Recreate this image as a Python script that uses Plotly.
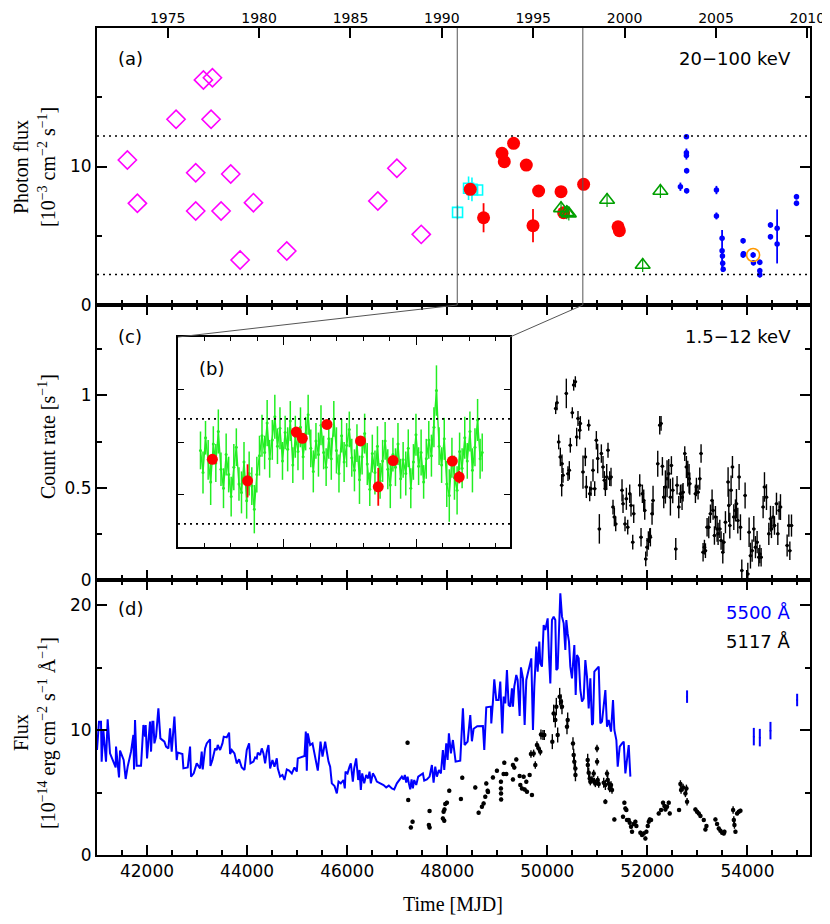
import plotly.graph_objects as go

# ------------------------------------------------------------------ data
# panel (a): 20-100 keV photon flux [1e-3 cm^-2 s^-1]
mag_t = [41607, 41807, 42580, 43127, 43307, 43280, 42973, 42973, 43480, 43673,
         44127, 43860, 44793, 46613, 46993, 47480]
mag_f = [10.47, 7.34, 13.41, 16.25, 16.41, 13.41, 9.55, 6.79, 6.79, 9.46,
         7.39, 3.25, 3.90, 7.51, 9.87, 5.10]

cyan_t = [48206, 48426, 48494, 48606]
cyan_f = [6.69, 8.43, 8.35, 8.30]
cyan_e = [0.5, 0.85, 0.85, 0.4]

red_t = [48460, 48726, 49094, 49140, 49326, 49580, 49714, 49826, 50274, 50326,
         50726, 51414, 51440]
red_f = [8.35, 6.30, 10.95, 10.35, 11.67, 10.10, 5.73, 8.23, 8.18, 6.66,
         8.71, 5.65, 5.37]
red_e = [0.3, 1.05, 0.2, 0.2, 0.2, 0.2, 1.2, 0.2, 0.2, 0.4, 0.2, 0.2, 0.2]

tri_t = [50274, 50390, 50430, 51194, 51906, 52260]
tri_f = [6.98, 6.70, 6.60, 7.58, 2.89, 8.23]
tri_e = [0.5, 0.5, 0.5, 0.5, 0.5, 0.5]

blu_t = [52660, 52780, 52780, 52780, 52785, 52785, 53380, 53380, 53493, 53493,
         53500, 53505, 53515, 53913, 53913, 53920, 54113, 54120, 54247, 54247,
         54247, 54460, 54460, 54593, 54593, 54980, 54980]
blu_f = [8.54, 12.15, 11.0, 10.8, 9.7, 8.25, 8.3, 6.43, 4.82, 3.92,
         3.54, 3.01, 2.58, 4.64, 3.61, 3.70, 3.61, 3.05, 3.08, 2.48,
         2.18, 5.78, 4.93, 5.54, 4.40, 7.82, 7.34]
blu_eh = [0.3, 0.15, 0.3, 0.3, 0.2, 0.2, 0.3, 0.25, 0.2, 1.5,
          0.2, 0.2, 0.2, 0.2, 0.2, 0.2, 0.2, 0.2, 0.2, 0.2,
          0.2, 0.2, 0.2, 0.2, 2.5, 0.2, 0.2]
blu_el = [0.3, 0.15, 0.3, 0.3, 0.2, 0.2, 0.3, 0.25, 0.2, 1.5,
          0.2, 0.2, 0.2, 0.2, 0.2, 0.2, 0.2, 0.2, 0.2, 0.2,
          0.2, 0.2, 0.2, 0.2, 1.4, 0.2, 0.2]

org_t = [54113]
org_f = [3.61]

ref_levels = [12.2, 2.2]

# panel (b) inset: light curve (photon flux units)
grn_t = [48370, 48389, 48408, 48428, 48447, 48467, 48486, 48505, 48525, 48544,
         48564, 48583, 48602, 48622, 48641, 48661, 48680, 48699, 48719, 48738,
         48758, 48777, 48796, 48816, 48835, 48855, 48874, 48893, 48913, 48932,
         48952, 48971, 48990, 49010, 49029, 49049, 49068, 49087, 49107, 49126,
         49146, 49165, 49184, 49204, 49223, 49243, 49262, 49281, 49301, 49320,
         49340, 49359, 49378, 49398, 49417, 49437, 49456, 49475, 49495, 49514,
         49534, 49553, 49572, 49592, 49611, 49631, 49650, 49669, 49689, 49708,
         49728, 49747, 49766, 49786, 49805, 49825, 49844, 49863, 49883, 49902,
         49922, 49941, 49960, 49980, 49999, 50019, 50038, 50057, 50077, 50096,
         50116, 50135, 50154, 50174, 50193, 50213, 50232, 50251, 50271, 50290,
         50310, 50329, 50348, 50368, 50387, 50407, 50426, 50445, 50465, 50484, 50500]
grn_f = [9.2, 7.1, 10.4, 8.3, 6.2, 9.8, 8.0, 11.0, 7.4, 5.6,
         8.8, 6.9, 4.8, 7.6, 9.5, 6.0, 5.2, 8.1, 4.4, 7.0,
         5.8, 3.6, 6.9, 8.7, 10.6, 9.0, 11.8, 8.4, 10.2, 12.4,
         9.6, 11.3, 8.2, 10.9, 9.3, 12.0, 7.8, 10.5, 9.1, 11.4,
         8.6, 10.8, 12.6, 9.4, 7.2, 10.1, 8.8, 11.6, 9.0, 7.6,
         10.3, 8.4, 12.2, 9.2, 7.0, 10.6, 8.1, 9.7, 11.2, 8.5,
         7.3, 9.9, 6.4, 8.6, 10.8, 7.9, 5.5, 8.9, 7.1, 9.6,
         6.3, 8.2, 10.1, 7.4, 5.9, 8.8, 7.6, 9.8, 6.5, 8.3,
         7.0, 9.4, 5.6, 8.1, 10.7, 7.7, 9.0, 6.2, 8.4, 10.2,
         8.7, 11.4, 14.9, 9.6, 7.8, 10.3, 6.0, 4.9, 8.5, 6.6,
         5.4, 9.1, 7.5, 10.4, 8.2, 11.0, 7.3, 9.5, 12.1, 8.4, 9.0]
grn_e = [1.8, 2.0, 1.6, 1.9, 2.2, 1.7, 1.8, 2.1, 1.6, 1.9,
         2.0, 1.7, 1.9, 2.2, 1.8, 1.6, 2.0, 1.9, 1.7, 2.1,
         1.8, 2.3, 1.7, 1.9, 2.0, 1.6, 2.2, 1.8, 1.9, 2.1,
         1.7, 2.0, 1.8, 1.6, 2.1, 1.9, 1.7, 2.0, 1.8, 1.9,
         2.2, 1.6, 1.9, 1.8, 2.0, 1.7, 2.1, 1.9, 1.6, 1.8,
         1.9, 2.0, 1.7, 2.2, 1.8, 1.6, 1.9, 2.1, 1.7, 1.8,
         2.0, 1.8, 2.3, 1.7, 1.9, 2.0, 1.6, 1.8, 2.1, 1.9,
         1.7, 2.0, 1.8, 1.9, 2.2, 1.6, 1.8, 2.0, 1.9, 1.7,
         2.1, 1.8, 1.9, 1.7, 2.0, 1.8, 2.2, 1.6, 1.9, 1.8,
         2.0, 1.9, 2.4, 1.8, 1.7, 2.0, 2.2, 2.5, 1.9, 2.1,
         2.3, 1.8, 1.9, 2.0, 1.7, 1.9, 2.1, 1.8, 2.0, 1.9, 1.8]

# panel (c): 1.5-12 keV count rate
cr_t = [50167, 50193, 50227, 50260, 50287, 50293, 50313, 50380, 50413, 50440,
        50460, 50500, 50527, 50560, 50587, 50613, 50647, 50660, 50713, 50760,
        50780, 50827, 50847, 50873, 50913, 50947, 50980, 51007, 51040, 51080,
        51113, 51140, 51160, 51187, 51213, 51247, 51273, 51313, 51340, 51367,
        51493, 51513, 51553, 51580, 51607, 51647, 51673, 51707, 51727, 51847,
        51873, 51900, 51927, 51947, 51967, 51993, 52020, 52047, 52060, 52093,
        52113, 52207, 52247, 52273, 52300, 52327, 52360, 52393, 52427, 52460,
        52480, 52507, 52567, 52593, 52627, 52660, 52693, 52713, 52747, 52780,
        52807, 52833, 52847, 52960, 52980, 53013, 53047, 53073, 53113, 53140,
        53160, 53193, 53227, 53260, 53293, 53313, 53340, 53360, 53393, 53413,
        53447, 53473, 53507, 53527, 53560, 53613, 53627, 53647, 53673, 53700,
        53727, 53760, 53780, 53807, 53833, 53860, 53887, 53953, 54007, 54033,
        54060, 54093, 54127, 54160, 54193, 54227, 54247, 54273, 54313, 54340,
        54380, 54427, 54460, 54480, 54513, 54540, 54580, 54607, 54633, 54660,
        54793, 54827, 54847, 54880]
cr_r = [0.929, 0.960, 0.748, 0.667, 0.513, 0.630, 0.567, 1.011, 0.576, 0.594,
        0.730, 0.906, 1.056, 1.074, 0.775, 0.875, 0.812, 0.848, 0.585, 0.667,
        0.504, 0.839, 0.467, 0.495, 0.594, 0.495, 0.757, 0.658, 0.277, 0.685,
        0.612, 0.540, 0.495, 0.558, 0.703, 0.549, 0.558, 0.395, 0.341, 0.304,
        0.486, 0.413, 0.304, 0.440, 0.286, 0.467, 0.404, 0.205, 0.359, 0.513,
        0.232, 0.467, 0.431, 0.377, 0.114, 0.178, 0.214, 0.241, 0.232, 0.359,
        0.431, 0.630, 0.839, 0.848, 0.616, 0.449, 0.504, 0.549, 0.576, 0.449,
        0.621, 0.486, 0.168, 0.513, 0.395, 0.467, 0.449, 0.476, 0.685, 0.612,
        0.576, 0.549, 0.522, 0.467, 0.504, 0.476, 0.549, 0.685, 0.150, 0.178,
        0.159, 0.286, 0.286, 0.359, 0.431, 0.377, 0.241, 0.341, 0.277, 0.250,
        0.277, 0.214, 0.150, 0.205, 0.313, 0.531, 0.404, 0.295, 0.486, 0.612,
        0.341, 0.377, 0.413, 0.322, 0.558, 0.286, 0.051, 0.458, 0.033, 0.259,
        0.132, 0.159, 0.277, 0.178, 0.205, 0.123, 0.141, 0.123, 0.395, 0.504,
        0.449, 0.250, 0.332, 0.277, 0.341, 0.295, 0.413, 0.250, 0.377, 0.395,
        0.187, 0.295, 0.159, 0.295]
cr_e = [0.03, 0.04, 0.04, 0.05, 0.06, 0.05, 0.04, 0.08, 0.04, 0.05,
        0.04, 0.03, 0.03, 0.03, 0.05, 0.04, 0.05, 0.04, 0.09, 0.05,
        0.06, 0.03, 0.04, 0.04, 0.06, 0.04, 0.05, 0.08, 0.08, 0.05,
        0.06, 0.05, 0.04, 0.07, 0.04, 0.04, 0.05, 0.04, 0.05, 0.04,
        0.06, 0.05, 0.04, 0.06, 0.04, 0.05, 0.06, 0.04, 0.05, 0.06,
        0.05, 0.05, 0.06, 0.05, 0.04, 0.05, 0.05, 0.04, 0.05, 0.06,
        0.08, 0.07, 0.05, 0.04, 0.05, 0.06, 0.09, 0.10, 0.08, 0.10,
        0.05, 0.07, 0.06, 0.05, 0.06, 0.05, 0.07, 0.05, 0.04, 0.06,
        0.07, 0.08, 0.06, 0.05, 0.05, 0.04, 0.06, 0.05, 0.05, 0.04,
        0.04, 0.05, 0.06, 0.05, 0.06, 0.05, 0.05, 0.06, 0.07, 0.06,
        0.05, 0.05, 0.06, 0.05, 0.06, 0.08, 0.09, 0.07, 0.08, 0.06,
        0.07, 0.06, 0.08, 0.07, 0.07, 0.07, 0.06, 0.07, 0.06, 0.08,
        0.07, 0.06, 0.07, 0.06, 0.06, 0.05, 0.05, 0.05, 0.06, 0.08,
        0.07, 0.06, 0.07, 0.05, 0.06, 0.05, 0.06, 0.06, 0.05, 0.07,
        0.06, 0.06, 0.05, 0.06]

# panel (d): optical flux [1e-14 erg cm^-2 s^-1 A^-1]
v55_t = [41000, 41040, 41080, 41093, 41127, 41180, 41213, 41260, 41327, 41373,
         41380, 41413, 41440, 41460, 41507, 41533, 41573, 41613, 41680, 41727,
         41740, 41760, 41793, 41880, 41927, 41960, 41973, 42000, 42060, 42080,
         42107, 42127, 42147, 42180, 42227, 42267, 42347, 42380, 42427, 42460,
         42493, 42547, 42593, 42613, 42707, 42727, 42813, 42860, 42880, 42933,
         42993, 43060, 43093, 43113, 43160, 43193, 43260, 43267, 43307, 43360,
         43393, 43413, 43460, 43507, 43533, 43593, 43640, 43660, 43693, 43747,
         43793, 43840, 43893, 43947, 43993, 44040, 44067, 44127, 44160, 44193,
         44213, 44260, 44293, 44327, 44360, 44393, 44427, 44460, 44507, 44547,
         44593, 44613, 44660, 44707, 44747, 44793, 44840, 44893, 44947, 44993,
         45013, 45060, 45147, 45173, 45193, 45213, 45260, 45307, 45347, 45373,
         45413, 45440, 45467, 45507, 45560, 45593, 45627, 45660, 45693, 45747,
         45793, 45827, 45873, 45927, 45953, 45967, 46007, 46047, 46073, 46113,
         46140, 46180, 46220, 46247, 46273, 46300, 46340, 46380, 46420, 46447,
         46473, 46513, 46553, 46593, 46660, 46727, 46780, 46833, 46893, 46940,
         46993, 47047, 47093, 47127, 47153, 47180, 47207, 47233, 47260, 47287,
         47313, 47340, 47380, 47420, 47460, 47513, 47540, 47593, 47647, 47693,
         47727, 47760, 47793, 47833, 47873, 47913, 47940, 47980, 48007, 48033,
         48073, 48113, 48167, 48260, 48313, 48347, 48407, 48460, 48493, 48527,
         48600, 48713, 48740, 48780, 48873, 48880, 48913, 48940, 48980, 49027,
         49060, 49100, 49127, 49160, 49193, 49227, 49260, 49293, 49313, 49340,
         49380, 49407, 49447, 49473, 49513, 49547, 49580, 49647, 49680, 49713,
         49740, 49780, 49807, 49840, 49860, 49893, 49927, 49960, 50007, 50033,
         50060, 50093, 50127, 50160, 50180, 50207, 50227, 50260, 50293, 50327,
         50360, 50380, 50407, 50433, 50460, 50493, 50540, 50567, 50593, 50627,
         50660, 50693, 50727, 50760, 50793, 50827, 50860, 50893, 50913, 50940,
         51027, 51060, 51093, 51127, 51160, 51193, 51227, 51273, 51313, 51340,
         51380, 51407, 51447, 51493, 51527, 51560, 51593, 51627, 51660]
v55_f = [8.4, 10.67, 10.67, 7.47, 10.0, 7.47, 10.85, 8.13, 7.47, 7.0,
         8.67, 7.47, 6.2, 8.35, 7.8, 7.6, 6.08, 7.07, 8.27, 9.6,
         6.85, 10.8, 7.15, 7.15, 10.4, 9.47, 10.4, 7.73, 10.67, 8.27,
         10.67, 10.67, 8.93, 9.47, 11.73, 9.33, 9.07, 8.67, 8.53, 10.13,
         8.27, 11.07, 7.6, 8.19, 8.08, 6.93, 7.0, 8.67, 6.27, 6.53,
         7.33, 6.93, 8.27, 6.85, 8.53, 8.93, 9.25, 7.12, 7.6, 8.53,
         8.4, 8.8, 8.4, 8.93, 9.47, 9.41, 9.79, 8.08, 8.4, 8.13,
         7.33, 7.65, 7.0, 6.8, 8.4, 8.93, 7.33, 7.47, 7.81, 7.73,
         8.19, 8.0, 8.53, 8.13, 7.33, 8.27, 8.8, 6.93, 7.6, 7.07,
         7.73, 6.93, 6.27, 6.4, 6.0, 6.85, 6.75, 6.53, 7.0, 6.67,
         7.73, 7.81, 7.92, 9.87, 6.75, 9.73, 8.8, 8.93, 8.13, 7.33,
         6.75, 7.87, 9.07, 7.87, 9.07, 8.27, 7.47, 7.07, 5.73, 5.52,
         4.93, 5.87, 5.73, 6.0, 5.33, 6.67, 6.53, 7.07, 7.33, 5.87,
         6.93, 7.73, 6.0, 6.8, 5.2, 6.53, 5.73, 6.4, 6.13, 6.67,
         5.73, 6.53, 6.27, 5.87, 5.73, 5.6, 5.41, 5.55, 5.33, 5.25,
         5.73, 6.05, 6.27, 6.05, 6.4, 5.79, 6.27, 5.73, 5.25, 6.05,
         5.33, 6.0, 5.6, 6.27, 6.4, 6.53, 5.95, 6.05, 6.27, 7.2,
         5.79, 7.07, 6.27, 6.8, 6.53, 8.4, 6.8, 8.93, 7.6, 9.73,
         8.13, 9.2, 7.47, 7.55, 11.73, 8.8, 9.07, 11.2, 9.1, 10.1,
         10.3, 10.32, 8.4, 11.81, 11.87, 10.53, 12.27, 14.05, 12.4, 12.4,
         13.87, 9.73, 12.67, 12.13, 14.8, 12.0, 11.87, 13.33, 11.87, 13.47,
         14.4, 14.0, 11.12, 15.01, 14.13, 10.4, 14.0, 15.33, 15.73, 10.0,
         13.47, 16.67, 14.67, 17.07, 15.33, 15.07, 18.4, 18.0, 18.93, 15.87,
         13.73, 18.8, 19.07, 18.8, 14.8, 14.93, 18.0, 20.93, 19.07, 18.53,
         16.4, 18.8, 17.73, 17.07, 15.07, 14.13, 16.8, 12.8, 16.0, 15.73,
         13.2, 12.27, 12.53, 15.6, 14.27, 11.73, 14.13, 10.4, 10.53, 14.67,
         15.07, 10.53, 10.67, 12.13, 13.2, 10.27, 10.8, 9.87, 12.4, 10.0,
         9.2, 7.07, 8.67, 8.93, 9.07, 6.53, 7.87, 8.8, 6.27]

v55_late_t = [52793, 54127, 54247, 54460, 54993]
v55_late_f = [12.67, 9.47, 9.39, 9.95, 12.4]
v55_late_e = [0.5, 0.7, 0.7, 0.7, 0.5]

b51_t = [47207, 47220, 47273, 47307, 47633, 47647, 47647, 47913, 47927, 47940,
         47945, 47960, 47993, 48040, 48273, 48300, 48560, 48627, 48693, 48727,
         48760, 48780, 48807, 48815, 48913, 48993, 49073, 49073, 49075, 49077,
         49127, 49140, 49180, 49313, 49313, 49340, 49380, 49447, 49460, 49493,
         49527, 49547, 49580, 49593, 49647, 49673, 49693, 49727, 49760, 49793,
         49827, 49860, 49873, 49913, 49940, 50100, 50127, 50160, 50180, 50207,
         50247, 50273, 50293, 50393, 50407, 50513, 50527, 50540, 50560, 50562,
         50807, 50810, 50827, 50847, 50860, 50893, 50927, 50940, 50960, 50993,
         50995, 51007, 51027, 51127, 51160, 51160, 51193, 51207, 51227, 51247,
         51273, 51293, 51340, 51513, 51540, 51560, 51580, 51593, 51627, 51647,
         51673, 51693, 51727, 51760, 51780, 51860, 51893, 51927, 51960, 51980,
         52007, 52027, 52047, 52073, 52227, 52273, 52313, 52340, 52360, 52393,
         52427, 52447, 52633, 52660, 52673, 52713, 52760, 52780, 52793, 52960,
         52993, 53027, 53060, 53127, 53160, 53180, 53360, 53393, 53427, 53460,
         53493, 53527, 53540, 53713, 53727, 53740, 53760, 53793, 53827, 53860]
b51_f = [8.99, 4.40, 2.21, 2.67, 2.40, 3.52, 2.21, 2.93, 3.47, 2.75,
         3.65, 4.08, 4.19, 5.15, 4.48, 6.19, 5.41, 3.39, 3.87, 4.13,
         4.67, 5.73, 5.15, 5.05, 6.21, 6.75, 5.87, 5.33, 4.93, 4.45,
         6.48, 7.39, 6.48, 7.20, 6.05, 7.00, 7.65, 6.32, 5.60, 5.33,
         6.27, 5.25, 5.87, 5.07, 6.40, 8.08, 4.80, 8.13, 7.20, 8.80,
         8.53, 8.27, 9.65, 9.60, 9.60, 9.07, 11.33, 10.80, 11.87, 9.60,
         12.67, 12.27, 11.87, 10.27, 10.80, 8.93, 8.00, 7.47, 6.93, 6.40,
         7.60, 7.20, 6.59, 6.13, 5.87, 6.05, 6.53, 5.87, 5.73, 8.53,
         7.47, 6.00, 5.68, 5.79, 5.60, 4.27, 6.53, 6.00, 5.73, 5.33,
         5.60, 5.20, 2.85, 3.07, 4.19, 3.73, 3.60, 2.80, 2.80, 2.59,
         2.27, 1.87, 2.48, 2.67, 2.32, 1.79, 1.60, 1.73, 1.33, 1.87,
         2.32, 2.67, 2.85, 2.80, 3.33, 3.60, 4.19, 3.92, 3.65, 3.87,
         4.19, 3.33, 3.60, 5.68, 5.20, 5.41, 4.93, 5.33, 4.27, 3.65,
         3.47, 3.33, 3.12, 2.80, 2.05, 2.32, 2.85, 2.48, 2.13, 1.95,
         1.79, 1.73, 1.87, 3.60, 2.80, 2.40, 1.87, 3.33, 3.47, 3.55]
b51_e = [0.15, 0.15, 0.15, 0.15, 0.15, 0.15, 0.15, 0.15, 0.15, 0.15,
         0.15, 0.15, 0.15, 0.15, 0.15, 0.15, 0.15, 0.15, 0.15, 0.15,
         0.15, 0.15, 0.15, 0.15, 0.15, 0.15, 0.15, 0.15, 0.15, 0.15,
         0.15, 0.15, 0.15, 0.15, 0.15, 0.15, 0.15, 0.15, 0.15, 0.15,
         0.15, 0.15, 0.15, 0.15, 0.15, 0.3, 0.15, 0.3, 0.3, 0.3,
         0.3, 0.3, 0.4, 0.4, 0.4, 0.6, 0.7, 0.6, 0.7, 0.6,
         0.7, 0.6, 0.6, 0.6, 0.6, 0.5, 0.5, 0.5, 0.5, 0.5,
         0.5, 0.5, 0.4, 0.4, 0.3, 0.3, 0.3, 0.3, 0.3, 0.3,
         0.3, 0.3, 0.3, 0.4, 0.4, 0.2, 0.3, 0.4, 0.4, 0.3,
         0.3, 0.3, 0.15, 0.15, 0.15, 0.15, 0.15, 0.15, 0.15, 0.15,
         0.15, 0.15, 0.15, 0.15, 0.15, 0.15, 0.15, 0.15, 0.15, 0.15,
         0.15, 0.15, 0.15, 0.15, 0.15, 0.15, 0.15, 0.15, 0.15, 0.15,
         0.15, 0.15, 0.15, 0.3, 0.3, 0.3, 0.3, 0.3, 0.3, 0.15,
         0.15, 0.15, 0.15, 0.15, 0.15, 0.15, 0.15, 0.15, 0.15, 0.15,
         0.15, 0.15, 0.15, 0.3, 0.3, 0.3, 0.15, 0.15, 0.15, 0.15]

# axes
x_range = [41000, 55250]
zoom_range = [48200, 50710]
year_lbl = ["1975", "1980", "1985", "1990", "1995", "2000", "2005", "2010"]
year_mjd = [42413, 44239, 46066, 47892, 49718, 51544, 53371, 55197]

# ------------------------------------------------------------------ layout helpers
OFF = 8                       # page body margin of the browser
W, H = 830 - OFF, 924 - OFF
ML, MR, MT, MB = 97 - OFF, 20, 28 - OFF, 69
PW, PH = W - ML - MR, H - MT - MB
Y_BOT = 855                   # page y of the bottom axis


def px(x):
    return (x - 97) / PW


def py(y):
    return (Y_BOT - y) / PH


DOM_D = [0, py(580)]
DOM_C = [py(580), py(305)]
DOM_A = [py(305), 1]
INS_X = [px(178), px(510)]
INS_Y = [py(547), py(337)]

TICKFONT = dict(family="DejaVu Sans", size=17, color="black")
YEARFONT = dict(family="DejaVu Sans", size=14, color="black")
SERIF = "Liberation Serif"


def xax(**kw):
    d = dict(range=x_range, showline=True, linewidth=2, linecolor="black",
             ticks="inside", ticklen=10, tickwidth=1.5, tickcolor="black",
             tick0=0, dtick=2000, showgrid=False, zeroline=False,
             tickformat="d", tickfont=TICKFONT, mirror="ticks",
             minor=dict(dtick=500, tick0=0, ticklen=5, ticks="inside",
                        tickwidth=1.5, tickcolor="black", showgrid=False))
    d.update(kw)
    return d


def yax(**kw):
    d = dict(showline=True, linewidth=2, linecolor="black",
             ticks="inside", ticklen=10, tickwidth=1.5, tickcolor="black",
             showgrid=False, zeroline=False, tickfont=TICKFONT, mirror="ticks")
    d.update(kw)
    return d


fig = go.Figure()

# ---- panel (a)
fig.add_trace(go.Scatter(x=mag_t, y=mag_f, mode="markers", xaxis="x3", yaxis="y3",
                         marker=dict(symbol="diamond-open", size=14, color="#FF00FF",
                                     line=dict(width=1.6, color="#FF00FF"))))
fig.add_trace(go.Scatter(x=cyan_t, y=cyan_f, mode="markers", xaxis="x3", yaxis="y3",
                         marker=dict(symbol="square-open", size=10, color="#00FFFF",
                                     line=dict(width=1.6, color="#00FFFF")),
                         error_y=dict(type="data", array=cyan_e, color="#00FFFF",
                                      thickness=1.6, width=0)))
fig.add_trace(go.Scatter(x=red_t, y=red_f, mode="markers", xaxis="x3", yaxis="y3",
                         marker=dict(symbol="circle", size=13, color="#FF0000"),
                         error_y=dict(type="data", array=red_e, color="#FF0000",
                                      thickness=1.8, width=0)))
fig.add_trace(go.Scatter(x=tri_t, y=tri_f, mode="markers", xaxis="x3", yaxis="y3",
                         marker=dict(symbol="triangle-up-open", size=13, color="#00A000",
                                     line=dict(width=1.6, color="#00A000")),
                         error_y=dict(type="data", array=tri_e, color="#00A000",
                                      thickness=1.2, width=0)))
fig.add_trace(go.Scatter(x=blu_t, y=blu_f, mode="markers", xaxis="x3", yaxis="y3",
                         marker=dict(symbol="circle", size=5.5, color="#0000FF"),
                         error_y=dict(type="data", array=blu_eh, arrayminus=blu_el,
                                      color="#0000FF", thickness=1.8, width=0)))
fig.add_trace(go.Scatter(x=org_t, y=org_f, mode="markers", xaxis="x3", yaxis="y3",
                         marker=dict(symbol="circle-open", size=13, color="#FF9900",
                                     line=dict(width=1.6, color="#FF9900"))))
# invisible trace so the top (calendar year) axis is drawn
fig.add_trace(go.Scatter(x=[year_mjd[0]], y=[ref_levels[0]], mode="markers",
                         xaxis="x5", yaxis="y3", hoverinfo="skip",
                         marker=dict(size=1, color="rgba(0,0,0,0)")))

# ---- panel (c)
fig.add_trace(go.Scatter(x=cr_t, y=cr_r, mode="markers", xaxis="x2", yaxis="y2",
                         marker=dict(symbol="circle", size=3.5, color="black"),
                         error_y=dict(type="data", array=cr_e, color="black",
                                      thickness=1.4, width=0),
                         error_x=dict(type="constant", value=35, color="black",
                                      thickness=1.2, width=0)))

# ---- inset (b)
fig.add_trace(go.Scatter(x=grn_t, y=grn_f, mode="lines+markers", xaxis="x4", yaxis="y4",
                         line=dict(color="#22EE22", width=1.4),
                         marker=dict(symbol="circle", size=3, color="#22EE22"),
                         error_y=dict(type="data", array=grn_e, color="#22EE22",
                                      thickness=1.5, width=0)))
ins_t = [t for t in red_t if zoom_range[0] <= t <= zoom_range[1]]
ins_f = [f for t, f in zip(red_t, red_f) if zoom_range[0] <= t <= zoom_range[1]]
ins_e = [e for t, e in zip(red_t, red_e) if zoom_range[0] <= t <= zoom_range[1]]
fig.add_trace(go.Scatter(x=ins_t, y=ins_f, mode="markers", xaxis="x4", yaxis="y4",
                         marker=dict(symbol="circle", size=11, color="#FF0000"),
                         error_y=dict(type="data", array=[e * 1.5 for e in ins_e],
                                      color="#FF0000", thickness=1.8, width=0)))

# ---- panel (d)
fig.add_trace(go.Scatter(x=v55_t, y=v55_f, mode="lines", xaxis="x", yaxis="y",
                         line=dict(color="#0000FF", width=2)))
fig.add_trace(go.Scatter(x=v55_late_t, y=v55_late_f, mode="markers", xaxis="x", yaxis="y",
                         marker=dict(size=2, color="#0000FF"),
                         error_y=dict(type="data", array=v55_late_e, color="#0000FF",
                                      thickness=2, width=0)))
fig.add_trace(go.Scatter(x=b51_t, y=b51_f, mode="markers", xaxis="x", yaxis="y",
                         marker=dict(symbol="circle", size=4.5, color="black"),
                         error_y=dict(type="data", array=b51_e, color="black",
                                      thickness=1.4, width=0)))

# ------------------------------------------------------------------ shapes
shapes = []
for lv in ref_levels:
    shapes.append(dict(type="line", xref="x3 domain", yref="y3", x0=0, x1=1, y0=lv, y1=lv,
                       line=dict(color="black", width=1.6, dash="2px,4px")))
    shapes.append(dict(type="line", xref="x4 domain", yref="y4", x0=0, x1=1, y0=lv, y1=lv,
                       line=dict(color="black", width=1.6, dash="2px,4px")))
span = x_range[1] - x_range[0]
for zx, ix in zip(zoom_range, [INS_X[0], INS_X[1]]):
    shapes.append(dict(type="line", xref="x3", yref="y3 domain", x0=zx, x1=zx, y0=0, y1=1,
                       line=dict(color="#555555", width=1)))
    shapes.append(dict(type="line", xref="paper", yref="paper",
                       x0=(zx - x_range[0]) / span, y0=DOM_A[0], x1=ix, y1=INS_Y[1],
                       line=dict(color="#555555", width=1)))

# ------------------------------------------------------------------ annotations
LBLFONT = dict(family="DejaVu Sans", size=18, color="black")
TITLEFONT = dict(family=SERIF, size=20, color="black")


def ann(text, x, y, xanchor="center", font=LBLFONT, angle=0):
    return dict(text=text, x=px(x), y=py(y), xref="paper", yref="paper",
                xanchor=xanchor, yanchor="middle", showarrow=False, font=font,
                textangle=angle)


annotations = [
    ann("(a)", 130, 58),
    ann("20\u2212100 keV", 793, 58, xanchor="right"),
    ann("(c)", 130, 336),
    ann("1.5\u221212 keV", 793, 336, xanchor="right"),
    ann("(b)", 211, 368),
    ann("(d)", 130, 608),
    ann("5500 \u00c5", 793, 612, xanchor="right", font=dict(family="DejaVu Sans", size=18, color="#0000FF")),
    ann("5117 \u00c5", 793, 641, xanchor="right"),
    ann("Photon flux", 21, 167, font=TITLEFONT, angle=-90),
    ann("[10<sup>\u22123</sup> cm<sup>\u22122</sup> s<sup>\u22121</sup>]", 47, 167, font=TITLEFONT, angle=-90),
    ann("Count rate [s<sup>\u22121</sup>]", 47, 437, font=TITLEFONT, angle=-90),
    ann("Flux", 21, 733, font=TITLEFONT, angle=-90),
    ann("[10<sup>\u221214</sup> erg cm<sup>\u22122</sup> s<sup>\u22121</sup> \u00c5<sup>\u22121</sup>]", 47, 733,
        font=TITLEFONT, angle=-90),
    ann("Time [MJD]", 453, 904, font=TITLEFONT),
]

fig.update_layout(
    width=W, height=H, margin=dict(l=ML, r=MR, t=MT, b=MB),
    paper_bgcolor="white", plot_bgcolor="white", showlegend=False,
    template="none",
    xaxis=xax(domain=[0, 1], anchor="y"),
    yaxis=yax(domain=DOM_D, range=[0, 22], tickvals=[0, 10, 20],
              minor=dict(dtick=5, tick0=0, ticklen=5, ticks="inside", tickwidth=1.5,
                         tickcolor="black", showgrid=False)),
    xaxis2=xax(domain=[0, 1], anchor="y2", showticklabels=False, matches="x"),
    yaxis2=yax(domain=DOM_C, range=[0, 1.49], tickvals=[0, 0.5, 1],
               minor=dict(dtick=0.25, tick0=0, ticklen=5, ticks="inside", tickwidth=1.5,
                          tickcolor="black", showgrid=False)),
    xaxis3=xax(domain=[0, 1], anchor="y3", showticklabels=False, matches="x", mirror=False),
    yaxis3=yax(domain=DOM_A, range=[0, 20], tickvals=[0, 10],
               minor=dict(dtick=5, tick0=0, ticklen=5, ticks="inside", tickwidth=1.5,
                          tickcolor="black", showgrid=False)),
    xaxis4=dict(domain=INS_X, anchor="y4", range=zoom_range, showline=True, linewidth=1.5,
                linecolor="black", mirror="ticks", ticks="inside", ticklen=8, tickwidth=1.2,
                tickcolor="black", tick0=0, dtick=1000, showticklabels=False, showgrid=False,
                zeroline=False,
                minor=dict(dtick=200, tick0=0, ticklen=4, ticks="inside", tickwidth=1.2,
                           tickcolor="black", showgrid=False)),
    yaxis4=dict(domain=INS_Y, anchor="x4", range=[0, 20], showline=True, linewidth=1.5,
                linecolor="black", mirror="ticks", ticks="inside", ticklen=6, tickwidth=1.2,
                tickcolor="black", tickvals=[5, 10, 15], showticklabels=False,
                showgrid=False, zeroline=False),
    xaxis5=dict(overlaying="x3", side="top", anchor="y3", range=x_range,
                tickvals=year_mjd, ticktext=year_lbl, ticks="inside", ticklen=10,
                tickwidth=1.5, tickcolor="black", showline=True, linewidth=2,
                linecolor="black", showgrid=False, zeroline=False, tickfont=YEARFONT,
                ticklabelstandoff=-3),
    shapes=shapes,
    annotations=annotations,
)

fig.write_html("out.html")
